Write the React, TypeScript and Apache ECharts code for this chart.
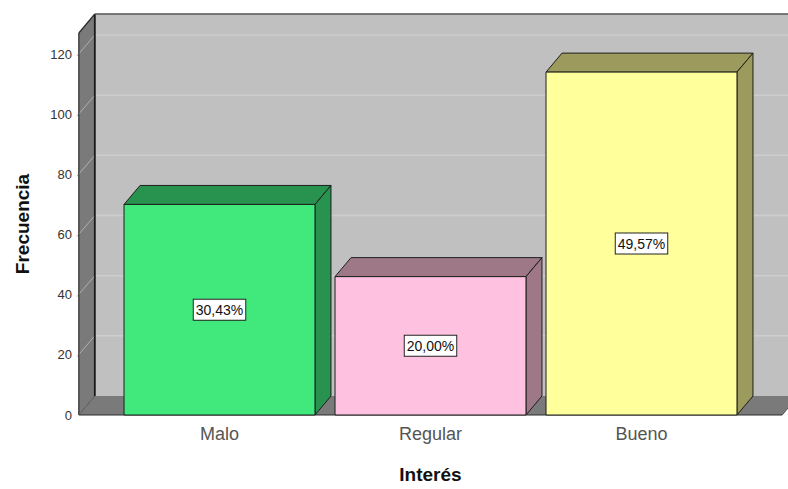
import React, { useEffect, useRef } from "react";
import * as echarts from "echarts";

const categories = ["Malo", "Regular", "Bueno"];
const counts = [70, 46, 114];
const frontColors = ["#41e97d", "#ffc1e0", "#ffff9b"];
const sideColors = ["#28924f", "#9f7888", "#9c9a5c"];
const yTicks = [0, 20, 40, 60, 80, 100, 120];
const yMax = 127;

const DX = 16;
const DY = 19;
const FONT = '"Liberation Sans", Arial, sans-serif';

export default function App() {
  const ref = useRef<HTMLDivElement>(null);
  useEffect(() => {
    document.body.style.margin = "0";
    document.body.style.overflow = "hidden";
    document.documentElement.style.overflow = "hidden";
    const chart = echarts.init(ref.current!, null, { renderer: "svg", width: 788, height: 489 });
    const total = counts.reduce((a, b) => a + b, 0);
    const pct = counts.map((c) => ((c / total) * 100).toFixed(2).replace(".", ",") + "%");

    const option: any = {
      animation: false,
      textStyle: { fontFamily: FONT },
      grid: { left: 114, right: 41, top: 33, bottom: 67 },
      xAxis: {
        type: "category",
        data: categories,
        axisLine: { show: false },
        axisTick: { show: false },
        splitLine: { show: false },
        axisLabel: { fontSize: 18, color: "#555", margin: 10, fontFamily: FONT },
        name: "Interés",
        nameLocation: "middle",
        nameGap: 50,
        nameTextStyle: { fontSize: 19, fontWeight: "bold", color: "#111", fontFamily: FONT },
      },
      yAxis: {
        type: "value",
        min: 0,
        max: yMax,
        interval: 20,
        axisLine: { show: false },
        axisTick: { show: false },
        splitLine: { show: false },
        axisLabel: {
          fontSize: 13,
          color: "#333",
          margin: 42,
          fontFamily: FONT,
          formatter: (v: number) => (yTicks.includes(v) ? String(v) : ""),
        },
        name: "Frecuencia",
        nameLocation: "middle",
        nameGap: 82,
        nameTextStyle: { fontSize: 19, fontWeight: "bold", color: "#111", fontFamily: FONT },
      },
      series: [
        {
          type: "custom",
          z: 1,
          silent: true,
          data: [[0, 0]],
          renderItem: (_params: any, api: any) => {
            const bw = api.size([1, 0])[0];
            const c0 = api.coord([0, 0]);
            const c2 = api.coord([categories.length - 1, 0]);
            const top = api.coord([0, yMax])[1];
            const y0 = c0[1];
            const xL = c0[0] - (bw * 2) / 3;
            const xR = c2[0] + (bw * 2) / 3;
            const children: any[] = [];
            children.push({
              type: "rect",
              shape: { x: xL + DX, y: top - DY, width: xR - xL, height: y0 - top },
              style: { fill: "#c0c0c0" },
            });
            children.push({
              type: "polygon",
              shape: { points: [[xL, y0], [xL, top], [xL + DX, top - DY], [xL + DX, y0 - DY]] },
              style: { fill: "#7a7a7a" },
            });
            children.push({
              type: "polygon",
              shape: { points: [[xL, y0], [xR, y0], [xR + DX, y0 - DY], [xL + DX, y0 - DY]] },
              style: { fill: "#7a7a7a" },
            });
            yTicks.forEach((v) => {
              if (v === 0) return;
              const y = api.coord([0, v])[1];
              children.push({
                type: "line",
                shape: { x1: xL + DX, y1: y - DY, x2: xR + DX, y2: y - DY },
                style: { stroke: "#cdcdcd", lineWidth: 1.5 },
              });
              children.push({
                type: "line",
                shape: { x1: xL - 2, y1: y + 2, x2: xL + DX, y2: y - DY },
                style: { stroke: "#b0b0b0", lineWidth: 1 },
              });
            });
            const edge = { stroke: "#2a2a2a", lineWidth: 1.2 };
            children.push({ type: "line", shape: { x1: xL, y1: y0, x2: xL, y2: top }, style: edge });
            children.push({ type: "line", shape: { x1: xL + DX, y1: y0 - DY, x2: xL + DX, y2: top - DY }, style: { stroke: "#1a1a1a", lineWidth: 1.8 } });
            children.push({ type: "line", shape: { x1: xL, y1: top, x2: xL + DX, y2: top - DY }, style: edge });
            children.push({ type: "line", shape: { x1: xL + DX, y1: top - DY, x2: xR + DX, y2: top - DY }, style: { stroke: "#555", lineWidth: 1.5 } });
            children.push({ type: "line", shape: { x1: xL, y1: y0, x2: xR, y2: y0 }, style: edge });
            children.push({ type: "line", shape: { x1: xL, y1: y0, x2: xL + DX, y2: y0 - DY }, style: { stroke: "#555", lineWidth: 1 } });
            children.push({ type: "line", shape: { x1: xR, y1: y0, x2: xR + DX, y2: y0 - DY }, style: { stroke: "#555", lineWidth: 1 } });
            return { type: "group", children };
          },
        },
        {
          type: "custom",
          z: 2,
          data: counts.map((c, i) => [i, c]),
          renderItem: (params: any, api: any) => {
            const i = params.dataIndex;
            const v = api.value(1);
            const pt = api.coord([api.value(0), v]);
            const cx = pt[0];
            const yt = pt[1];
            const y0 = api.coord([api.value(0), 0])[1];
            const w = api.size([1, 0])[0] * 0.905;
            const xl = cx - w / 2;
            const xr = cx + w / 2;
            const stroke = "#1e1e1e";
            return {
              type: "group",
              children: [
                {
                  type: "polygon",
                  shape: { points: [[xl, yt], [xr, yt], [xr + DX, yt - DY], [xl + DX, yt - DY]] },
                  style: { fill: sideColors[i], stroke, lineWidth: 1 },
                },
                {
                  type: "polygon",
                  shape: { points: [[xr, yt], [xr + DX, yt - DY], [xr + DX, y0 - DY], [xr, y0]] },
                  style: { fill: sideColors[i], stroke, lineWidth: 1 },
                },
                {
                  type: "rect",
                  shape: { x: xl, y: yt, width: w, height: y0 - yt },
                  style: { fill: frontColors[i], stroke, lineWidth: 1 },
                },
                {
                  type: "text",
                  x: cx,
                  y: (yt + y0) / 2,
                  style: {
                    text: pct[i],
                    align: "center",
                    verticalAlign: "middle",
                    fill: "#111",
                    fontSize: 14,
                    fontFamily: FONT,
                    backgroundColor: "#ffffff",
                    borderColor: "#222",
                    borderWidth: 1,
                    padding: [3, 2, 3, 2],
                  },
                },
              ],
            };
          },
        },
      ],
    };
    chart.setOption(option);
    return () => chart.dispose();
  }, []);
  return (
    <div
      ref={ref}
      style={{ position: "fixed", left: 0, top: 0, width: 788, height: 489, background: "#fff", overflow: "hidden" }}
    />
  );
}
